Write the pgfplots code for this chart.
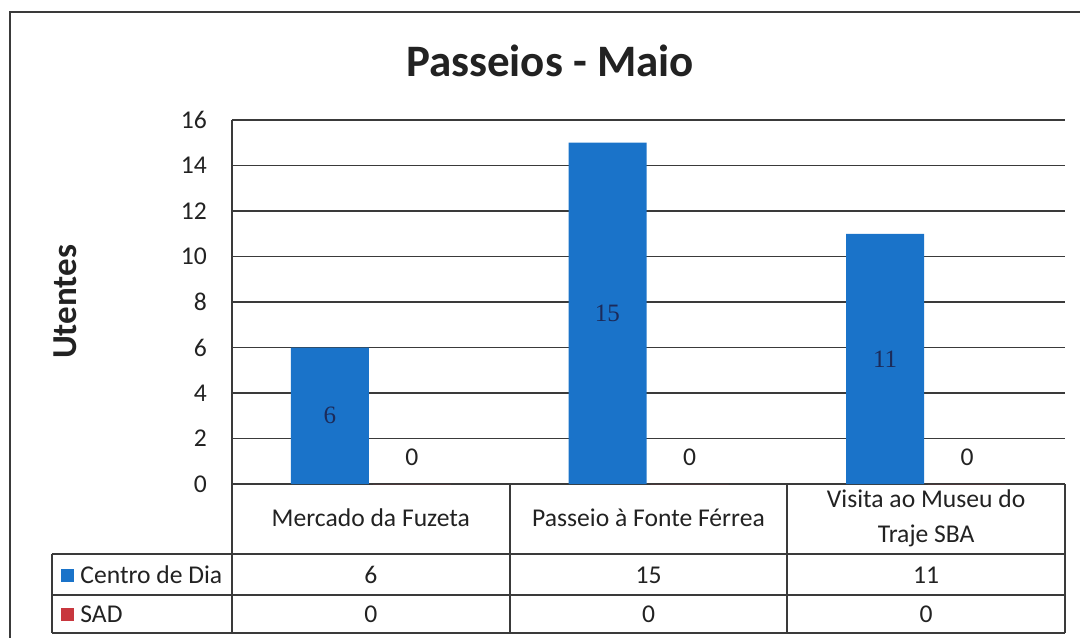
\documentclass[border=0pt]{standalone}
\usepackage{pgfplots}
\pgfplotsset{compat=1.18}
\usepackage{fontspec}
\setmainfont{Carlito}
\newfontfamily\labelfont{Liberation Serif}

\definecolor{cdblue}{HTML}{1A73C9}
\definecolor{sadred}{HTML}{C8373E}
\definecolor{linec}{HTML}{3A3A3A}
\definecolor{txt}{HTML}{222222}
\definecolor{navy}{HTML}{1C2B5A}

\begin{document}
\begin{tikzpicture}[x=1pt,y=1pt]
\useasboundingbox (-116,-76.5) rectangle (424,242);
% moldura do grafico
\draw[linec, line width=0.8pt] (-111,-80) -- (-111,236) -- (430,236);

\begin{axis}[
  scale only axis, width=416.5pt, height=182pt,
  xmin=-0.5, xmax=2.5, ymin=0, ymax=16,
  ybar, bar width=39pt,
  clip=false,
  separate axis lines,
  axis x line*=bottom, axis y line*=left,
  axis line style={-, linec, line width=0.9pt},
  ytick={0,2,...,16},
  xtick={0,1,2},
  xticklabels={Mercado da Fuzeta, Passeio à Fonte Férrea, {Visita ao Museu do\\Traje SBA}},
  xticklabel style={anchor=center, yshift=-17pt, align=center,
    font=\fontsize{12.8}{17.5}\selectfont, text=txt},
  yticklabel style={xshift=-9pt, font=\fontsize{12.8}{14}\selectfont, text=txt},
  /pgf/number format/assume math mode=true,
  major tick length=0pt,
  ymajorgrids, grid style={linec, line width=0.9pt},
  title={Passeios - Maio},
  title style={at={(axis description cs:0.3818,1)}, anchor=center, yshift=23.5pt,
    font=\bfseries\fontsize{22.5}{26}\selectfont, text=txt},
  ylabel={Utentes},
  ylabel style={at={(axis description cs:-0.2005,0.5)}, anchor=center,
    font=\bfseries\fontsize{17.5}{20}\selectfont, text=txt},
]
% Centro de Dia
\addplot[fill=cdblue, draw=none, bar shift=-20.5pt] coordinates {(0,6) (1,15) (2,11)};
% SAD
\addplot[fill=sadred, draw=none, bar shift=20.5pt,
  nodes near coords,
  nodes near coords style={font=\fontsize{12.8}{14}\selectfont, text=txt, yshift=5.5pt}]
  coordinates {(0,0) (1,0) (2,0)};
% rotulos centrados nas barras do Centro de Dia
\addplot[draw=none, fill=none, bar shift=-20.5pt,
  nodes near coords, point meta=explicit symbolic,
  nodes near coords style={anchor=center, font=\labelfont\fontsize{12.5}{14}\selectfont, text=navy}]
  coordinates {(0,3)[6] (1,7.5)[15] (2,5.5)[11]};
\end{axis}

% tabela de dados
\begin{scope}[linec, line width=0.9pt]
  \draw (0,0) -- (0,-74.5);
  \draw (139,0) -- (139,-74.5);
  \draw (277.5,0) -- (277.5,-74.5);
  \draw (416.5,0) -- (416.5,-74.5);
  \draw (-90,-35) -- (416.5,-35);
  \draw (-90,-55.5) -- (416.5,-55.5);
  \draw (-90,-74.5) -- (416.5,-74.5);
  \draw (-90,-35) -- (-90,-74.5);
\end{scope}
\fill[cdblue] (-85.5,-49) rectangle ++(6.5,6.5);
\fill[sadred] (-85.5,-68.5) rectangle ++(6.5,6.5);
\begin{scope}[every node/.style={font=\fontsize{12.8}{14}\selectfont, text=txt, inner sep=0pt}]
  \node[anchor=west] at (-76,-45.5) {Centro de Dia};
  \node[anchor=west] at (-76,-65) {SAD};
  \node at (69.4,-45.5) {6};
  \node at (208.25,-45.5) {15};
  \node at (347.1,-45.5) {11};
  \node at (69.4,-65) {0};
  \node at (208.25,-65) {0};
  \node at (347.1,-65) {0};
\end{scope}
\end{tikzpicture}
\end{document}
